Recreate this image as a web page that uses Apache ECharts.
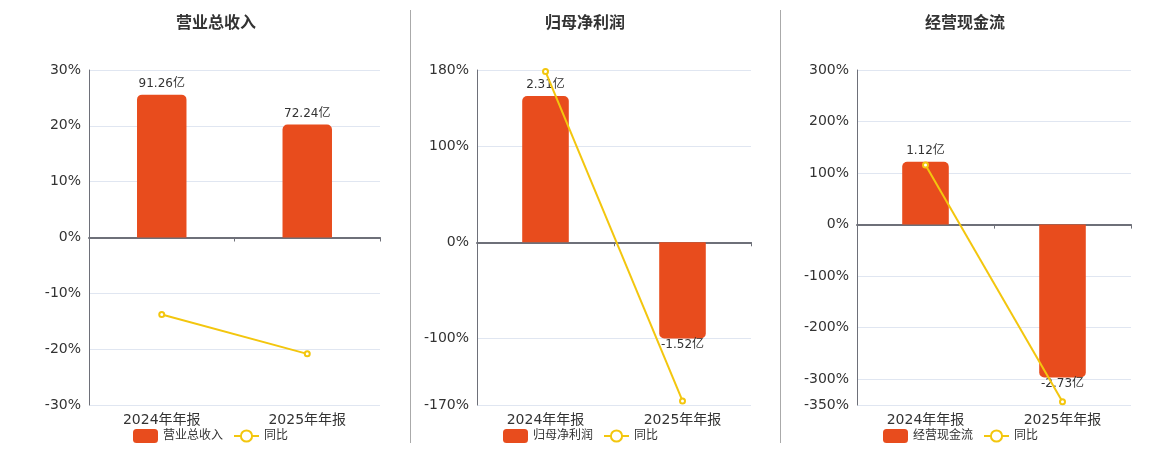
<!DOCTYPE html>
<html>
<head>
<meta charset="utf-8">
<script src="https://cdn.jsdelivr.net/npm/echarts@6/dist/echarts.min.js"></script>
<style>
  html, body { margin: 0; padding: 0; background: #fff; }
  #main { width: 1160px; height: 450px; }
</style>
</head>
<body>
<div id="main"></div>
<script>
// 数据
var categories = ['2024年年报', '2025年年报'];
var titles = ['营业总收入', '归母净利润', '经营现金流'];

var revenue = [91.26, 72.24];        // 亿
var revenueYoy = [-13.8, -20.84];    // %
var profit = [2.31, -1.52];
var profitYoy = [178.4, -165.8];
var cashflow = [1.12, -2.73];
var cashflowYoy = [115.7, -343.75];

var barValues = [revenue, profit, cashflow];
var yoyValues = [revenueYoy, profitYoy, cashflowYoy];

// 百分比轴刻度
var pctTicks = [
  [-30, -20, -10, 0, 10, 20, 30],
  [-170, -100, 0, 100, 180],
  [-350, -300, -200, -100, 0, 100, 200, 300]
];

var FONT = 'DejaVu Sans, Noto Sans CJK SC, sans-serif';
var BAR_COLOR = '#E84C1D';
var LINE_COLOR = '#F3C60E';
var AXIS_COLOR = '#6E7079';

// 布局
var grids = [
  { left: 89, width: 291 },
  { left: 477, width: 274 },
  { left: 857, width: 274 }
];
var centers = [211, 580, 960];
var legendLeft = [128, 498, 878];
// 隐藏的柱状图轴范围（与百分比轴零点对齐）
var barRange = [[-107, 107], [-2.57, 2.72], [-3.22, 2.76]];

var option = {
  backgroundColor: '#fff',
  animation: false,
  textStyle: { fontFamily: FONT },
  title: [],
  legend: [],
  grid: [],
  xAxis: [],
  yAxis: [],
  series: [],
  graphic: [
    { type: 'line', shape: { x1: 410.5, y1: 10, x2: 410.5, y2: 443 }, style: { stroke: '#aaa', lineWidth: 1 } },
    { type: 'line', shape: { x1: 780.5, y1: 10, x2: 780.5, y2: 443 }, style: { stroke: '#aaa', lineWidth: 1 } }
  ]
};

for (var i = 0; i < 3; i++) {
  var ticks = pctTicks[i];
  option.title.push({
    text: titles[i], left: centers[i], top: 11, textAlign: 'center',
    textStyle: { fontSize: 16, fontWeight: 'bold', color: '#333', fontFamily: FONT }
  });
  option.legend.push({
    left: legendLeft[i], top: 424, itemWidth: 25, itemHeight: 14, itemGap: 10,
    textStyle: { fontSize: 12, color: '#333', fontFamily: FONT },
    data: [titles[i], '同比']
  });
  option.grid.push({ left: grids[i].left, width: grids[i].width, top: 70, bottom: 45 });

  // 标签轴（底部）
  option.xAxis.push({
    type: 'category', gridIndex: i, data: categories, position: 'bottom',
    axisLine: { show: false, onZero: false }, axisTick: { show: false },
    axisLabel: { color: '#333', fontSize: 14, margin: 8 }
  });
  // 零线轴
  option.xAxis.push({
    type: 'category', gridIndex: i, data: categories, position: 'bottom',
    axisLine: { show: true, onZero: true, lineStyle: { color: AXIS_COLOR, width: 2 } },
    axisTick: { show: true, length: 4, lineStyle: { color: AXIS_COLOR } },
    axisLabel: { show: false }
  });

  option.yAxis.push({
    type: 'value', gridIndex: i, min: ticks[0], max: ticks[ticks.length - 1],
    axisLine: { show: true, lineStyle: { color: AXIS_COLOR, width: 1 } },
    axisTick: { show: false, customValues: ticks },
    axisLabel: { color: '#333', fontSize: 14, formatter: '{value}%', customValues: ticks },
    splitLine: { show: true, lineStyle: { color: '#E0E6F1' } }
  });
  option.yAxis.push({
    type: 'value', gridIndex: i, min: barRange[i][0], max: barRange[i][1], show: false,
    splitLine: { show: false }
  });

  var bars = barValues[i].map(function (v) {
    return {
      value: v,
      itemStyle: { borderRadius: v >= 0 ? [5, 5, 0, 0] : [0, 0, 5, 5] },
      label: { position: v >= 0 ? 'top' : 'bottom', distance: v >= 0 ? 5 : 0 }
    };
  });

  option.series.push({
    name: titles[i], type: 'bar', xAxisIndex: i * 2, yAxisIndex: i * 2 + 1,
    barWidth: '34%', data: bars,
    itemStyle: { color: BAR_COLOR },
    label: {
      show: true, color: '#333', fontSize: 12, fontFamily: FONT,
      formatter: function (p) { return p.value + '亿'; }
    }
  });
  option.series.push({
    name: '同比', type: 'line', xAxisIndex: i * 2, yAxisIndex: i * 2, z: 5,
    data: yoyValues[i], symbol: 'emptyCircle', symbolSize: 5,
    lineStyle: { color: LINE_COLOR, width: 2 },
    itemStyle: { color: LINE_COLOR, borderWidth: 1.5 }
  });
}

var chart = echarts.init(document.getElementById('main'));
chart.setOption(option);
</script>
</body>
</html>
